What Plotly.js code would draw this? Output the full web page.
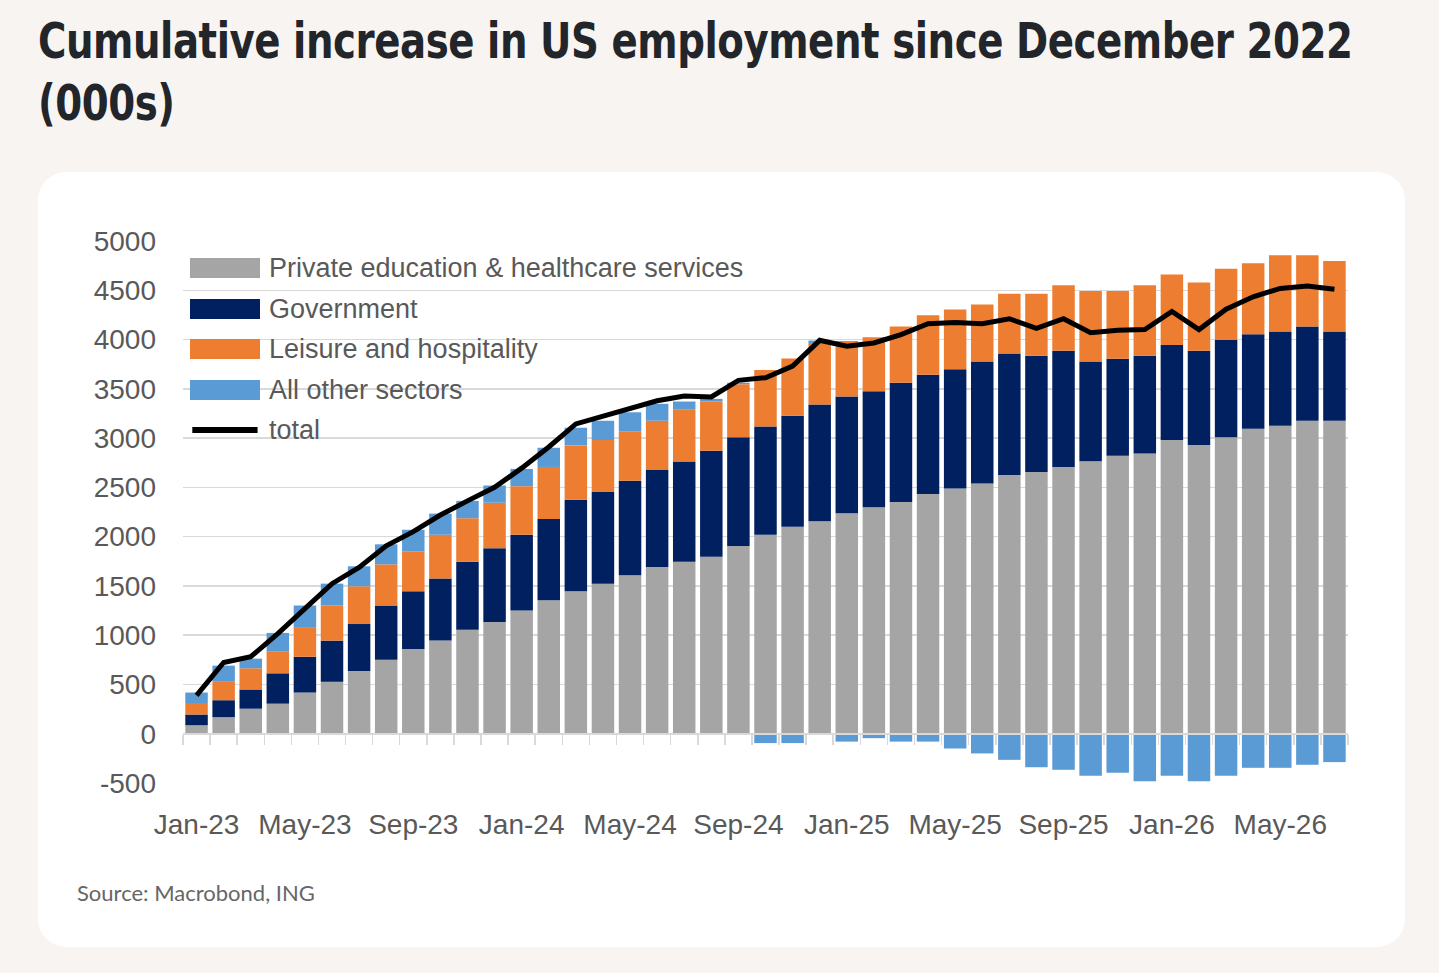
<!DOCTYPE html>
<html>
<head>
<meta charset="utf-8">
<script src="https://cdn.plot.ly/plotly-3.0.1.min.js"></script>
<style>
  html, body { margin: 0; padding: 0; }
  body { width: 1439px; height: 973px; background: #f7f4f1; position: relative; overflow: hidden; }
  #title {
    position: absolute; left: 38px; top: 10px; width: 1600px;
    font-family: "DejaVu Sans Condensed", "DejaVu Sans", sans-serif;
    font-weight: bold; font-size: 50px; line-height: 62px; color: #22252a;
    white-space: nowrap; letter-spacing: -0.5px;
    transform: scaleX(0.86); transform-origin: left top;
  }
  #card {
    position: absolute; left: 38px; top: 172px; width: 1367px; height: 775px;
    background: #ffffff; border-radius: 28px;
  }
  #source {
    position: absolute; left: 77px; top: 879px;
    font-family: Lato, "Noto Sans", sans-serif; font-size: 22px; color: #666666;
  }
  #chart { position: absolute; left: 0; top: 0; width: 1439px; height: 973px; }
</style>
</head>
<body>
<div id="title">Cumulative increase in US employment since December 2022<br>(000s)</div>
<div id="card"></div>
<div id="source">Source: Macrobond, ING</div>
<div id="chart"></div>
<script>
"use strict";

var months = ["Jan-23", "Feb-23", "Mar-23", "Apr-23", "May-23", "Jun-23", "Jul-23", "Aug-23", "Sep-23", "Oct-23", "Nov-23", "Dec-23",
    "Jan-24", "Feb-24", "Mar-24", "Apr-24", "May-24", "Jun-24", "Jul-24", "Aug-24", "Sep-24", "Oct-24", "Nov-24", "Dec-24",
    "Jan-25", "Feb-25", "Mar-25", "Apr-25", "May-25", "Jun-25", "Jul-25", "Aug-25", "Sep-25", "Oct-25", "Nov-25", "Dec-25",
    "Jan-26", "Feb-26", "Mar-26", "Apr-26", "May-26", "Jun-26", "Jul-26"];

var tickMonths = ["Jan-23", "May-23", "Sep-23", "Jan-24", "May-24", "Sep-24", "Jan-25", "May-25", "Sep-25", "Jan-26", "May-26"];

var yTickVals = [-500, 0, 500, 1000, 1500, 2000, 2500, 3000, 3500, 4000, 4500, 5000];
var yTickText = ["-500", "0", "500", "1000", "1500", "2000", "2500", "3000", "3500", "4000", "4500", "5000"];

var eduHealth = [86, 168, 254, 305, 418, 527, 637, 750, 859, 945, 1055, 1133,
    1250, 1355, 1445, 1523, 1609, 1691, 1746, 1797, 1906, 2019, 2101, 2156,
    2238, 2297, 2351, 2433, 2488, 2539, 2625, 2656, 2707, 2766, 2820, 2844,
    2980, 2930, 3008, 3094, 3125, 3176, 3176];

var government = [109, 172, 195, 308, 363, 418, 476, 551, 586, 629, 691, 750,
    769, 825, 930, 930, 957, 985, 1016, 1074, 1102, 1098, 1125, 1184,
    1184, 1179, 1211, 1211, 1211, 1238, 1234, 1180, 1180, 1011, 985, 992,
    965, 957, 988, 960, 957, 957, 906];

var leisure = [117, 187, 215, 219, 301, 356, 383, 418, 406, 445, 441, 461,
    493, 527, 551, 527, 500, 500, 527, 500, 539, 574, 582, 625,
    562, 547, 571, 602, 606, 578, 606, 629, 664, 715, 687, 715,
    715, 691, 723, 719, 773, 722, 715];

var otherSectors = [106, 164, 98, 191, 219, 222, 203, 203, 219, 215, 176, 175,
    175, 195, 179, 196, 196, 172, 82, 27, 15, -95, -95, 25,
    -80, -45, -80, -80, -150, -200, -265, -340, -366, -427, -396, -481,
    -427, -481, -427, -346, -346, -315, -288];

var total = [390, 723, 781, 1016, 1270, 1523, 1687, 1906, 2051, 2219, 2363, 2500,
    2695, 2910, 3144, 3223, 3301, 3379, 3426, 3418, 3586, 3613, 3730, 3992,
    3933, 3965, 4050, 4160, 4172, 4160, 4211, 4113, 4211, 4070, 4094, 4101,
    4285, 4101, 4308, 4434, 4519, 4543, 4511];

var seriesNames = ["Private education & healthcare services", "Government", "Leisure and hospitality", "All other sectors", "total"];
var seriesColors = ["#a5a5a5", "#002060", "#ed7d31", "#5b9bd5", "#000000"];

var tickFont = { family: "Liberation Sans, Arial, sans-serif", size: 28, color: "#595959" };

function barTrace(values, i) {
    return {
        x: months,
        y: values,
        type: "bar",
        name: seriesNames[i],
        marker: { color: seriesColors[i], line: { width: 0 } },
        hoverinfo: "x+y+name"
    };
}

var data = [
    barTrace(eduHealth, 0),
    barTrace(government, 1),
    barTrace(leisure, 2),
    barTrace(otherSectors, 3),
    {
        x: months,
        y: total,
        type: "scatter",
        mode: "lines",
        name: seriesNames[4],
        line: { color: "#000000", width: 5 }
    },
    //dummy trace so the zero axis with its boundary ticks gets drawn
    {
        x: months,
        y: months.map(function () { return null; }),
        xaxis: "x2",
        type: "scatter",
        mode: "lines",
        showlegend: false,
        hoverinfo: "skip"
    }
];

//Hand made legend: wide swatches like the Excel original
var legendRows = [0.9502, 0.8745, 0.8007, 0.7251, 0.6513];
var shapes = [];
var annotations = [];
for (var i = 0; i < seriesNames.length; i++) {
    if (i < 4) {
        shapes.push({
            type: "rect", xref: "paper", yref: "paper",
            x0: 0.006, x1: 0.0661, y0: legendRows[i] - 0.0185, y1: legendRows[i] + 0.0185,
            fillcolor: seriesColors[i], line: { width: 0 }
        });
    }
    else {
        shapes.push({
            type: "line", xref: "paper", yref: "paper",
            x0: 0.008, x1: 0.064, y0: legendRows[i], y1: legendRows[i],
            line: { color: seriesColors[i], width: 6 }
        });
    }
    annotations.push({
        xref: "paper", yref: "paper", x: 0.0721, y: legendRows[i],
        xanchor: "left", yanchor: "middle", showarrow: false,
        text: seriesNames[i],
        font: { family: "Liberation Sans, Arial, sans-serif", size: 27, color: "#595959" }
    });
}

var layout = {
    width: 1439,
    height: 973,
    margin: { l: 183, r: 91, t: 241, b: 190, pad: 0 },
    paper_bgcolor: "rgba(0,0,0,0)",
    plot_bgcolor: "rgba(0,0,0,0)",
    barmode: "relative",
    bargap: 0.17,
    showlegend: false,
    xaxis: {
        type: "category",
        range: [-0.5, months.length - 0.5],
        tickmode: "array",
        tickvals: tickMonths,
        ticktext: tickMonths,
        ticks: "",
        showgrid: false,
        showline: false,
        zeroline: false,
        tickfont: tickFont,
        ticklabelstandoff: 22,
        fixedrange: true
    },
    xaxis2: {
        type: "category",
        overlaying: "x",
        anchor: "free",
        position: 500 / 5500,
        side: "bottom",
        range: [-0.5, months.length - 0.5],
        showline: true,
        linecolor: "#d9d9d9",
        linewidth: 2,
        ticks: "outside",
        ticklen: 10,
        tickwidth: 1.5,
        tickcolor: "#d9d9d9",
        tickson: "boundaries",
        showticklabels: false,
        showgrid: false,
        zeroline: false,
        fixedrange: true
    },
    yaxis: {
        range: [-500, 5000],
        tickmode: "array",
        tickvals: yTickVals,
        ticktext: yTickText,
        ticks: "",
        showgrid: true,
        gridcolor: "#d9d9d9",
        gridwidth: 1.5,
        zeroline: false,
        showline: false,
        tickfont: tickFont,
        ticklabelstandoff: 26,
        fixedrange: true
    },
    shapes: shapes,
    annotations: annotations
};

Plotly.newPlot("chart", data, layout, { displayModeBar: false, staticPlot: true });
</script>
</body>
</html>
